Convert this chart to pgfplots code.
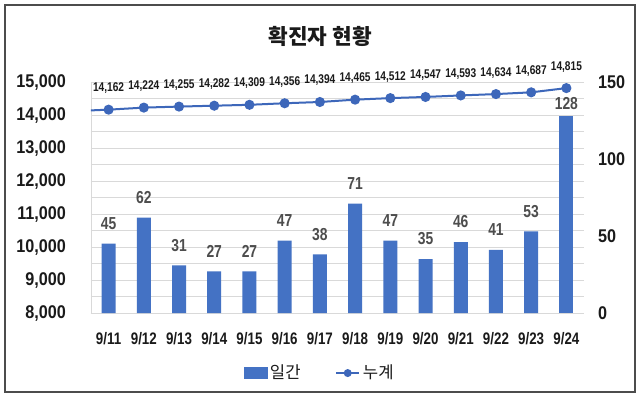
\documentclass[border=0pt]{standalone}
\usepackage{pgfplots}
\usepackage{pgfplotstable}
\pgfplotsset{compat=1.18}
\usepackage{fontspec}
\setmainfont{Liberation Sans}
\newfontfamily\cond[FakeStretch=0.88]{Liberation Sans}
\newfontfamily\condx[FakeStretch=0.8]{Liberation Sans}
\newfontfamily\kr{Noto Sans CJK KR}
\definecolor{barblue}{HTML}{4472C4}
\definecolor{linblue}{HTML}{3D67BA}
\definecolor{gridgray}{HTML}{D9D9D9}
\definecolor{lblgray}{HTML}{4D4D4D}
\definecolor{txt}{HTML}{1A1A1A}

\pgfplotstableread{
x day cum lbl
0 45 14162 14,162
1 62 14224 14,224
2 31 14255 14,255
3 27 14282 14,282
4 27 14309 14,309
5 47 14356 14,356
6 38 14394 14,394
7 71 14465 14,465
8 47 14512 14,512
9 35 14547 14,547
10 46 14593 14,593
11 41 14634 14,634
12 53 14687 14,687
13 128 14815 14,815
}\data

\begin{document}
\begin{tikzpicture}
\useasboundingbox (-68.25pt,-63pt) rectangle (411.75pt,234.75pt);
\fill[white] (-68.25pt,-63pt) rectangle (411.75pt,234.75pt);
\draw[gray!60!black, line width=0.8pt] (-64.5pt,-59.25pt) rectangle (408pt,231pt);
% axis A: left scale, grid, x labels
\begin{axis}[
  at={(0,0)}, anchor=south west,
  scale only axis, width=369.75pt, height=173.25pt,
  xmin=-0.5, xmax=13.5,
  ymin=8000, ymax=15000,
  scaled y ticks=false,
  /pgf/number format/assume math mode=true,
  /pgf/number format/1000 sep={,},
  xtick={0,...,13},
  xticklabels={9/11,9/12,9/13,9/14,9/15,9/16,9/17,9/18,9/19,9/20,9/21,9/22,9/23,9/24},
  minor xtick={-0.5,0.5,...,13.5},
  ytick={8000,9000,...,15000},
  minor ytick={8500,9500,...,14500},
  ymajorgrids, yminorgrids,
  major grid style={gridgray, line width=0.6pt},
  minor grid style={gridgray, line width=0.6pt},
  axis x line*=bottom, axis y line*=left,
  axis line style={gridgray, line width=0.6pt, -},
  xtick style={draw=none},
  ytick style={draw=none},
  minor y tick style={draw=none},
  minor x tick style={gridgray, line width=0.6pt},
  minor tick length=4pt,
  tick align=outside,
  xticklabel style={font=\condx\fontsize{12.5}{14}\selectfont\bfseries, text=txt, yshift=-7pt},
  yticklabel style={font=\cond\fontsize{13.8}{16}\selectfont\bfseries, text=txt, xshift=-11pt},
  title={\kr\bfseries 확진자 현황},
  title style={at={(0.465,1)}, anchor=center, yshift=28pt, font=\fontsize{16}{18}\selectfont, text=txt},
]
\addplot[linblue, line width=1.5pt, no marks] coordinates {(-1,14117) (0,14162)};
\end{axis}
% axis B: bars, right scale
\begin{axis}[
  at={(0,0)}, anchor=south west,
  scale only axis, width=369.75pt, height=173.25pt,
  xmin=-0.5, xmax=13.5,
  ymin=0, ymax=150,
  ytick={0,50,100,150},
  /pgf/number format/assume math mode=true,
  axis y line*=right, axis x line=none,
  axis line style={draw=none},
  ytick style={draw=none},
  yticklabel style={font=\cond\fontsize{13.8}{16}\selectfont\bfseries, text=txt, xshift=7pt},
  clip=false,
  ybar, bar width=10.5pt, bar shift=0pt,
  nodes near coords,
]
\addplot[fill=barblue, draw=none, skip coords between index={13}{14},
  nodes near coords style={font=\condx\fontsize{13}{14}\selectfont\bfseries, text=lblgray, yshift=7pt}]
  table[x=x, y=day] {\data};
\addplot[fill=barblue, draw=none, skip coords between index={0}{13},
  nodes near coords style={font=\condx\fontsize{13}{14}\selectfont\bfseries, text=lblgray, yshift=1pt}]
  table[x=x, y=day] {\data};
\end{axis}
% axis C: cumulative line
\begin{axis}[
  at={(0,0)}, anchor=south west,
  scale only axis, width=369.75pt, height=173.25pt,
  xmin=-0.5, xmax=13.5,
  ymin=8000, ymax=15000,
  hide axis, clip=false,
  legend style={at={(0.4645,-0.26)}, anchor=center, draw=none, fill=none,
    legend columns=2, font=\kr\fontsize{12.5}{15}\selectfont, text=txt,
    /tikz/every even column/.append style={column sep=24pt}},
]
\addlegendimage{legend image code/.code={\fill[barblue] (0pt,-4pt) rectangle (17.25pt,4.5pt);}}
\addlegendentry{일간}
\addplot[linblue, line width=1.5pt, mark=*, mark size=3pt,
  mark options={fill=linblue, draw=linblue},
  point meta=explicit symbolic,
  nodes near coords,
  nodes near coords style={font=\condx\fontsize{9.5}{11}\selectfont\bfseries, text=txt, yshift=8pt},
  legend image code/.code={\draw[linblue, line width=1.5pt] (0pt,0pt) -- (17.25pt,0pt); \fill[linblue] (8.6pt,0pt) circle (2.2pt);}
] table[x=x, y=cum, meta=lbl] {\data};
\addlegendentry{누계}
\end{axis}
\end{tikzpicture}
\end{document}
